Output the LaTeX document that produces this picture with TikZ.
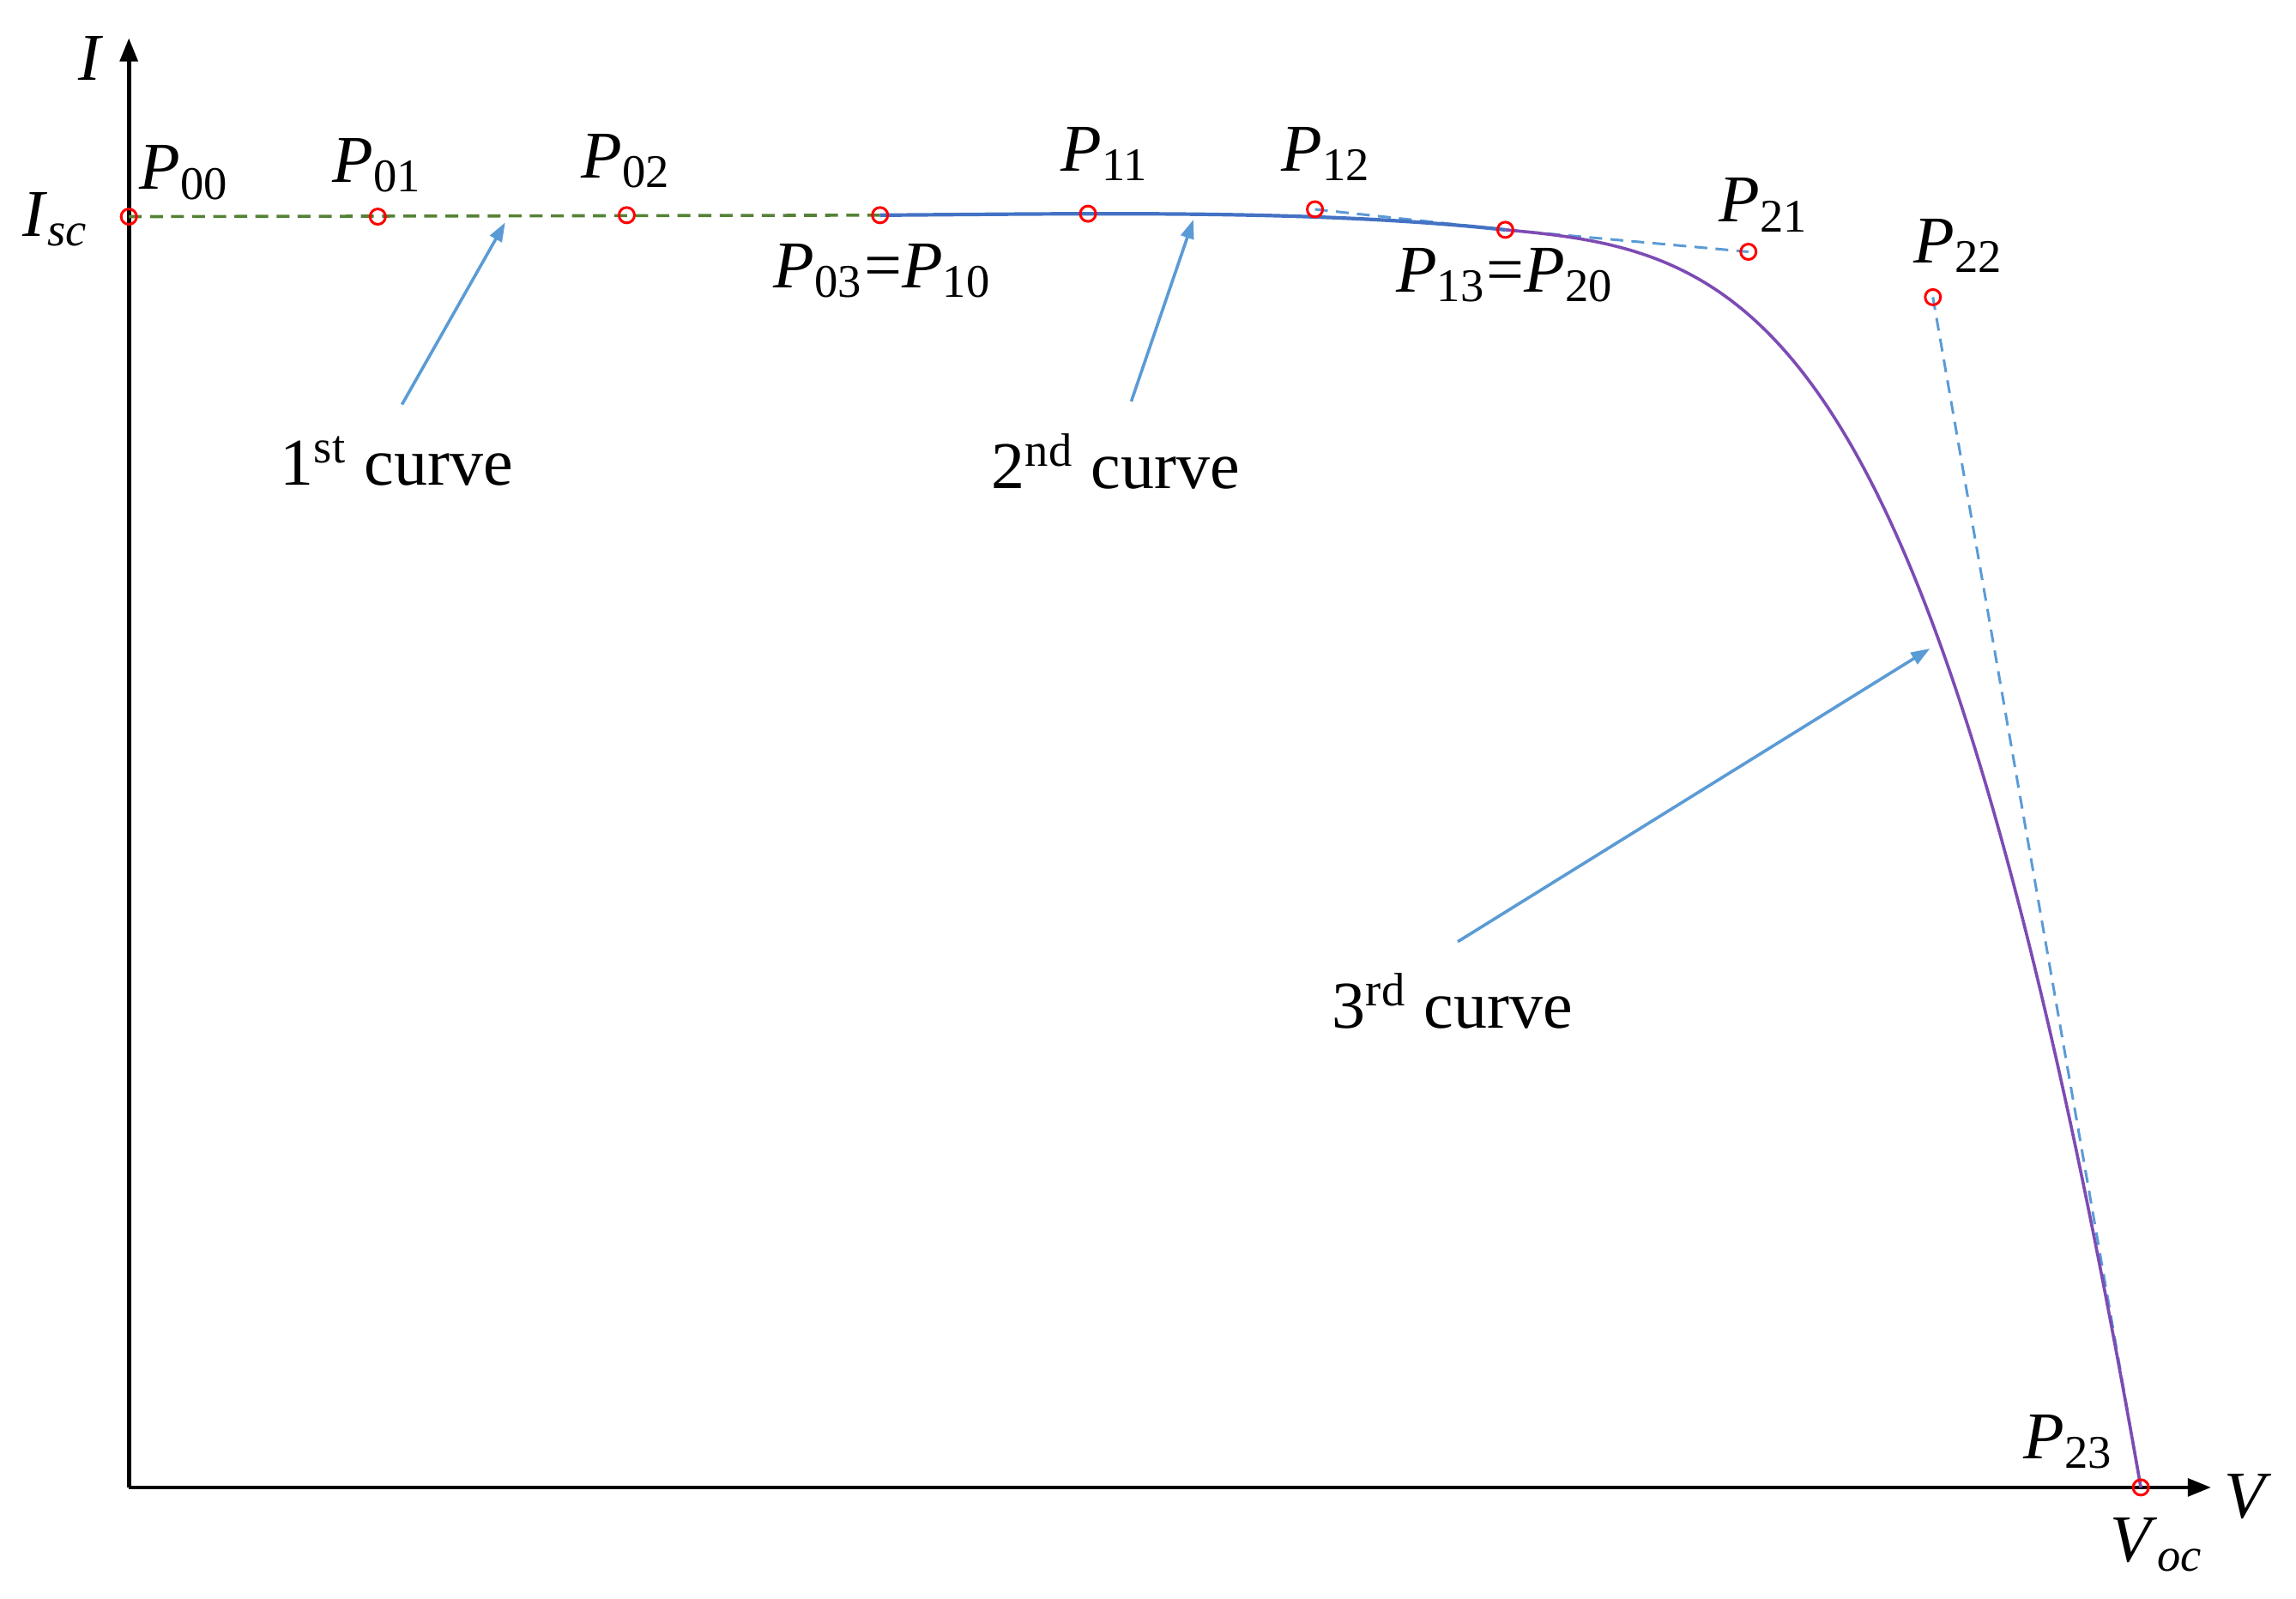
\documentclass[tikz,border=0pt]{standalone}
\usepackage{fontspec}
\setmainfont{Liberation Serif}
\usetikzlibrary{arrows.meta}

\definecolor{curveone}{RGB}{84,130,53}
\definecolor{curvetwo}{RGB}{68,114,196}
\definecolor{curvethree}{RGB}{125,75,180}
\definecolor{ctrlblue}{RGB}{91,155,213}

\newcommand{\Pnt}[1]{\textit{P}\textsubscript{#1}}

\tikzset{
  ctrlpt/.style={circle,draw=red,line width=0.5pt,inner sep=0pt,minimum size=3pt},
  lab/.style={font=\fontsize{13}{15}\selectfont,inner sep=1pt},
  pointer/.style={ctrlblue,line width=0.6pt,-{Triangle[length=1.3mm,width=0.9mm]}},
  ctrlline/.style={ctrlblue,line width=0.5pt,dash pattern=on 2.5pt off 1.6pt},
  axisline/.style={line width=0.8pt,-{Triangle[length=1.6mm,width=1.2mm]}}
}

\begin{document}
\begin{tikzpicture}
  \useasboundingbox (0,0) rectangle (15.68,10.92);

  %% axes
  \coordinate (O) at (0.88,0.76);
  \coordinate (ytop) at (0.88,10.66);
  \coordinate (xend) at (15.10,0.76);
  \draw[axisline] (O) -- (ytop);
  \draw[axisline] (O) -- (xend);
  \node[lab] (ilab) at (0.62,10.52) {\textit{I}};
  \node[lab] (vlab) at (15.35,0.70) {\textit{V}};
  \node[lab] (isclab) at (0.38,9.42) {\textit{I}\textsubscript{\textit{sc}}};
  \node[lab] (voclab) at (14.73,0.37) {\textit{V}\textsubscript{\textit{oc}}};

  %% control points
  \coordinate (p00) at (0.88,9.44);
  \coordinate (p01) at (2.58,9.44);
  \coordinate (p02) at (4.28,9.45);
  \coordinate (p03) at (6.01,9.45);
  \coordinate (p11) at (7.43,9.46);
  \coordinate (p12) at (8.98,9.49);
  \coordinate (p13) at (10.28,9.35);
  \coordinate (p21) at (11.94,9.20);
  \coordinate (p22) at (13.20,8.89);
  \coordinate (p23) at (14.62,0.76);

  % 1st curve
  \draw[curveone,line width=0.6pt,dash pattern=on 2.5pt off 1.6pt] (p00) -- (p03);
  % 2nd curve
  \draw[ctrlline] (p12) -- (p13);
  \draw[curvetwo,line width=0.7pt] (p03) .. controls (p11) and (p12) .. (p13);
  % 3rd curve
  \draw[ctrlline] (p13) -- (p21);
  \draw[ctrlline] (p22) -- (p23);
  \draw[curvethree,line width=0.6pt] (p13) .. controls (p21) and (p22) .. (p23);

  \foreach \p in {p00,p01,p02,p03,p11,p12,p13,p21,p22,p23}
    \node[ctrlpt] (\p c) at (\p) {};

  % point labels
  \node[lab] (l00) at (1.26,9.74) {\Pnt{00}};
  \node[lab] (l01) at (2.58,9.79) {\Pnt{01}};
  \node[lab] (l02) at (4.28,9.82) {\Pnt{02}};
  \node[lab] (l03) at (6.03,9.07) {\Pnt{03}=\Pnt{10}};
  \node[lab] (l11) at (7.55,9.87) {\Pnt{11}};
  \node[lab] (l12) at (9.06,9.87) {\Pnt{12}};
  \node[lab] (l13) at (10.28,9.04) {\Pnt{13}=\Pnt{20}};
  \node[lab] (l21) at (12.05,9.52) {\Pnt{21}};
  \node[lab] (l22) at (13.38,9.24) {\Pnt{22}};
  \node[lab] (l23) at (14.13,1.07) {\Pnt{23}};

  %% curve labels
  \node[lab] (c1lab) at (2.71,7.77) {1\textsuperscript{st} curve};
  \node[lab] (c2lab) at (7.62,7.77) {2\textsuperscript{nd} curve};
  \node[lab] (c3lab) at (9.92,4.08) {3\textsuperscript{rd} curve};
  \coordinate (c1tip) at (3.45,9.40);
  \coordinate (c2tip) at (8.15,9.42);
  \coordinate (c3tip) at (13.18,6.49);
  \draw[pointer] ([xshift=1pt,yshift=5pt]c1lab.north) -- (c1tip);
  \draw[pointer] ([xshift=3pt,yshift=5pt]c2lab.north) -- (c2tip);
  \draw[pointer] ([xshift=1pt,yshift=5pt]c3lab.north) -- (c3tip);
\end{tikzpicture}
\end{document}
